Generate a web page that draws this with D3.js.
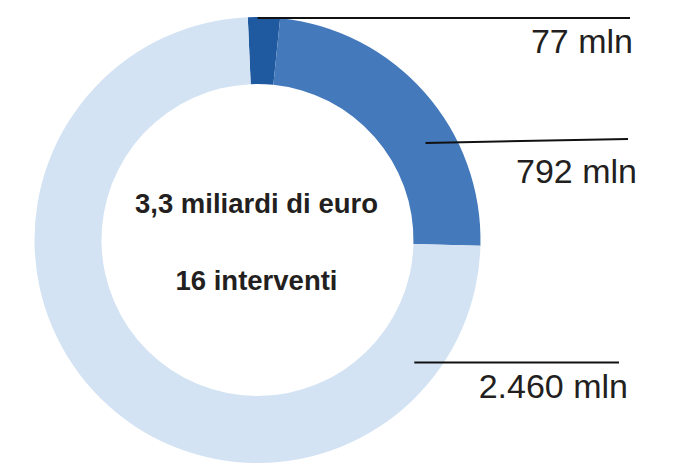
<html>
<head>
	<meta http-equiv="Content-Type" content="text/html; charset=utf-8" />
	<script src="https://cdn.jsdelivr.net/npm/d3@7/dist/d3.min.js" charset="utf-8"></script>
	<style type="text/css">
	body {
	  margin: 0;
	  background-color: white;
	}
	.label {
	  font-family: "Liberation Sans", Arial, sans-serif;
	  font-size: 34px;
	  fill: #231f20;
	}
	.center {
	  font-family: "Liberation Sans", Arial, sans-serif;
	  font-size: 27.5px;
	  font-weight: bold;
	  fill: #231f20;
	}
	</style>
</head>
<body>

	<svg width="673" height="466" version="1.1" xmlns="http://www.w3.org/2000/svg"></svg>

	<script type="text/javascript">
		// dati (milioni di euro)
		var v_Values   = [77 ,792 ,2460];
		var v_Colors   = ["#1f5aa0" ,"#4479bb" ,"#d3e3f3"];
		var v_Count    = 16;                                   // numero di interventi

		var v_Width    = 673;
		var v_Height   = 466;
		var v_Center   = {x:257.5 ,y:240};
		var v_ROuter   = 223;
		var v_RInner   = 156;
		var v_Start    = -2.5 * Math.PI / 180;                 // la prima fetta parte poco a sinistra dell'alto

		// posizione delle etichette: angolo/raggio dell'attacco, fine linea, testo
		var v_Leaders  = [
			{angle:0   ,r:222 ,x2:630 ,dy2:0  ,tx:633 ,ty:53},
			{angle:60  ,r:194 ,x2:628 ,dy2:-4 ,tx:637 ,ty:183},
			{angle:128 ,r:199 ,x2:619 ,dy2:0  ,tx:628 ,ty:398}
		];

		var v_Locale   = d3.formatLocale({decimal:"," ,thousands:"." ,grouping:[3] ,currency:["€" ,""]});
		var v_FmtInt   = v_Locale.format(",d");
		var v_FmtBil   = v_Locale.format(",.1f");

		var v_SVG = d3.select("svg");
		var v_G   = v_SVG.append("g")
		                 .attr("transform" ,"translate(" + v_Center.x + "," + v_Center.y + ")");

		var v_Pie = d3.pie()
		              .sort(null)
		              .startAngle(v_Start)
		              .endAngle(v_Start + 2 * Math.PI);

		var v_Arc = d3.arc()
		              .innerRadius(v_RInner)
		              .outerRadius(v_ROuter);

		// fette
		v_G.selectAll(".slice")
		   .data(v_Pie(v_Values))
		   .enter()
		   .append("path")
		   .attr("class" ,"slice")
		   .attr("d" ,v_Arc)
		   .attr("fill" ,function(d ,i) { return v_Colors[i]; });

		// linee di richiamo
		v_Leaders.forEach(function(l ,i)
		{
			var p = d3.pointRadial(l.angle * Math.PI / 180 ,l.r);
			var x1 = v_Center.x + p[0];
			var y1 = v_Center.y + p[1];

			v_SVG.append("line")
			     .attr("x1" ,x1)
			     .attr("y1" ,y1)
			     .attr("x2" ,l.x2)
			     .attr("y2" ,y1 + l.dy2)
			     .attr("stroke" ,"#111")
			     .attr("stroke-width" ,2);

			v_SVG.append("text")
			     .attr("class" ,"label")
			     .attr("x" ,l.tx)
			     .attr("y" ,l.ty)
			     .attr("text-anchor" ,"end")
			     .text(v_FmtInt(v_Values[i]) + " mln");
		});

		// testo centrale
		var v_Total = d3.sum(v_Values);
		v_G.append("text")
		   .attr("class" ,"center")
		   .attr("x" ,-1)
		   .attr("y" ,-27)
		   .attr("text-anchor" ,"middle")
		   .text(v_FmtBil(v_Total / 1000) + " miliardi di euro");

		v_G.append("text")
		   .attr("class" ,"center")
		   .attr("x" ,-1)
		   .attr("y" ,50)
		   .attr("text-anchor" ,"middle")
		   .text(v_Count + " interventi");
	</script>

</body>
</html>
